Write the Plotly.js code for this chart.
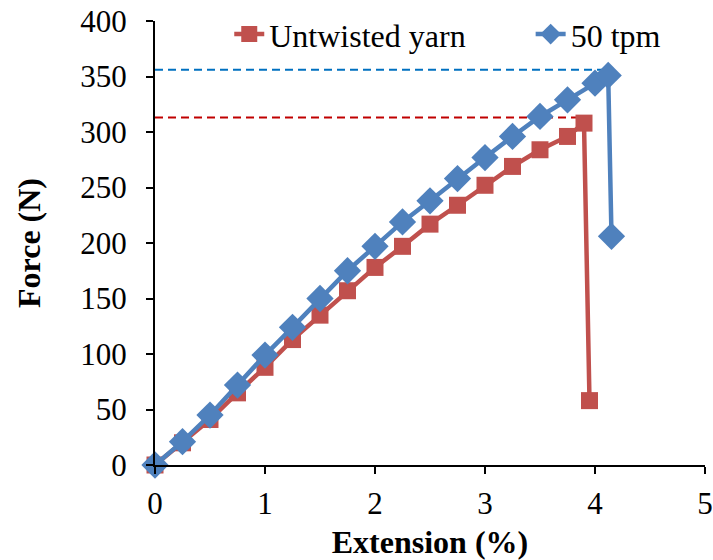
<!DOCTYPE html>
<html>
<head>
<meta charset="utf-8">
<script src="https://cdn.plot.ly/plotly-3.0.1.min.js"></script>
<style>html,body{margin:0;padding:0;background:#fff}#chart{width:713px;height:560px}</style>
</head>
<body>
<div id="chart"></div>
<script>
const untwistedX = [0, 0.25, 0.5, 0.75, 1, 1.25, 1.5, 1.75, 2, 2.25, 2.5, 2.75, 3, 3.25, 3.5, 3.75, 3.9, 3.95];
const untwistedY = [0, 20, 41, 65, 88, 113, 135, 157, 178, 197, 217, 234, 252, 269, 284, 296, 308, 58];
const tpm50X = [0, 0.25, 0.5, 0.75, 1, 1.25, 1.5, 1.75, 2, 2.25, 2.5, 2.75, 3, 3.25, 3.5, 3.75, 4.0, 4.12, 4.15];
const tpm50Y = [0, 21, 45, 72, 99, 124, 150, 175, 197, 219, 238, 258, 277, 296, 314, 329, 344, 351, 206];
const peakLineRedX = [0, 3.88];
const peakLineRedY = [313, 313];
const peakLineBlueX = [0, 4.14];
const peakLineBlueY = [356, 356];
const xTicks = [0, 1, 2, 3, 4, 5];
const yTicks = [0, 50, 100, 150, 200, 250, 300, 350, 400];

const font = "Liberation Serif, Times New Roman, serif";

const traces = [
  {x: peakLineRedX, y: peakLineRedY, mode: 'lines', showlegend: false, hoverinfo: 'skip',
   line: {color: '#C00000', width: 2, dash: '8px,5px'}},
  {x: peakLineBlueX, y: peakLineBlueY, mode: 'lines', showlegend: false, hoverinfo: 'skip',
   line: {color: '#0070C0', width: 2, dash: '8px,5px'}},
  {x: untwistedX, y: untwistedY, name: 'Untwisted yarn', mode: 'lines+markers', legend: 'legend',
   line: {color: '#C0504D', width: 4.5},
   marker: {symbol: 'square', size: 17, color: '#C0504D'}, cliponaxis: false},
  {x: tpm50X, y: tpm50Y, name: '50 tpm', mode: 'lines+markers', legend: 'legend2',
   line: {color: '#4F81BD', width: 4.5},
   marker: {symbol: 'diamond', size: 21, color: '#4F81BD'}, cliponaxis: false}
];

const legendBase = {orientation: 'h', yanchor: 'middle', y: 0.97, xanchor: 'left',
  font: {family: font, size: 32, color: '#000'}, bgcolor: 'rgba(0,0,0,0)'};

const layout = {
  width: 713, height: 560,
  margin: {l: 155, r: 8, t: 21, b: 95, autoexpand: false},
  paper_bgcolor: '#fff', plot_bgcolor: '#fff',
  font: {family: font, size: 31, color: '#000'},
  showlegend: true,
  legend: Object.assign({}, legendBase, {x: 0.135}),
  legend2: Object.assign({}, legendBase, {x: 0.683}),
  xaxis: {range: [0, 5], tickvals: xTicks, ticktext: xTicks.map(String), automargin: false,
          showgrid: false, zeroline: false, showline: true, linecolor: '#000', linewidth: 2,
          ticks: 'outside', ticklen: 7, tickwidth: 2, tickcolor: '#000', ticklabelstandoff: 3,
          tickfont: {family: font, size: 31, color: '#000'},
          title: {text: '<b>Extension (%)</b>', font: {family: font, size: 32, color: '#000'}, standoff: 14}},
  yaxis: {range: [0, 400], tickvals: yTicks, ticktext: yTicks.map(String), automargin: false,
          showgrid: false, zeroline: false, showline: true, linecolor: '#000', linewidth: 2,
          ticks: 'outside', ticklen: 7, tickwidth: 2, tickcolor: '#000', ticklabelstandoff: 13,
          tickfont: {family: font, size: 31, color: '#000'},
          title: {text: '<b>Force (N)</b>', font: {family: font, size: 32, color: '#000'}, standoff: 30}}
};

Plotly.newPlot('chart', traces, layout, {displayModeBar: false, staticPlot: true});
</script>
</body>
</html>
